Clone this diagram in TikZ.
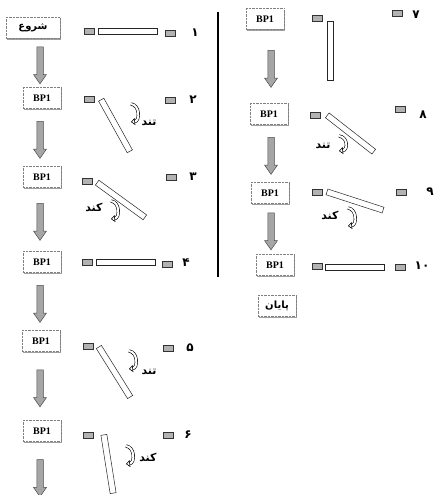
\documentclass[tikz,border=0pt]{standalone}
\usepackage{fontspec}
\setmainfont{Liberation Serif}
\newfontfamily\arabicfont[Script=Arabic]{DejaVu Sans}
\TeXXeTstate=1
\usepackage{tikz}
\usetikzlibrary{shapes.arrows,shadows,arrows.meta}
\tikzset{stepbox/.style={draw=gray, densely dotted, fill=white, minimum width=38pt, minimum height=21pt, inner sep=1pt, font=\fontsize{10}{12}\selectfont\bfseries, drop shadow={shadow xshift=1.3pt, shadow yshift=-1.3pt, fill=gray!75, opacity=1}}}
\tikzset{pad/.style={draw=black!80, fill=gray!60, minimum width=10pt, minimum height=6pt, inner sep=0pt, line width=0.5pt}}
\tikzset{bar/.style={draw=black!85, fill=white, minimum width=59pt, minimum height=6pt, inner sep=0pt, line width=0.5pt}}
\tikzset{fatarrow/.style={single arrow, draw=black!70, fill=gray!70, rotate=-90, minimum height=37pt, inner sep=3pt, single arrow head extend=3.2pt, single arrow tip angle=70, line width=0.5pt}}
\tikzset{curl/.style={line width=0.6pt, double=white, double distance=2pt, -{Triangle[open, length=4pt, width=7pt]}}}
\tikzset{word/.style={font=\arabicfont\bfseries\fontsize{11}{13}\selectfont, inner sep=0pt}}
\tikzset{num/.style={font=\arabicfont\bfseries\fontsize{12}{14}\selectfont, inner sep=0pt}}

\begin{document}
\begin{tikzpicture}[x=1pt,y=-1pt]
\useasboundingbox (0,0) rectangle (435,495);
\coordinate (x1) at (40,0);
\coordinate (x2) at (271,0);
\coordinate (tail) at (40,510);

\node[stepbox, minimum width=54pt] (s1) at (33,28) {\arabicfont\beginR شروع\endR};
\node[stepbox] (b2) at (42,98) {BP1};
\node[stepbox] (b3) at (42,177) {BP1};
\node[stepbox] (b4) at (42,262) {BP1};
\node[stepbox] (b5) at (41,341) {BP1};
\node[stepbox] (b6) at (42,431) {BP1};
\node[stepbox] (b7) at (265,19) {BP1};
\node[stepbox] (b8) at (269,114) {BP1};
\node[stepbox] (b9) at (270,193) {BP1};
\node[stepbox] (b10) at (275,265) {BP1};
\node[stepbox] (e) at (277,306) {\arabicfont\beginR پایان\endR};

\path (x1 |- s1.south) -- node[fatarrow] {} (x1 |- b2.north);
\path (x1 |- b2.south) -- node[fatarrow] {} (x1 |- b3.north);
\path (x1 |- b3.south) -- node[fatarrow] {} (x1 |- b4.north);
\path (x1 |- b4.south) -- node[fatarrow] {} (x1 |- b5.north);
\path (x1 |- b5.south) -- node[fatarrow] {} (x1 |- b6.north);
\path (x1 |- b6.south) -- node[fatarrow] {} (tail);
\path (x2 |- b7.south) -- node[fatarrow] {} (x2 |- b8.north);
\path (x2 |- b8.south) -- node[fatarrow] {} (x2 |- b9.north);
\path (x2 |- b9.south) -- node[fatarrow] {} (x2 |- b10.north);

\draw[line width=1.5pt] (218,12) -- (218,277);

\node[pad] (l1) at (89,31) {};
\node[bar] (r1) at (128,31) {};
\node[pad] (p1) at (170,33) {};
\node[num] (n1) at (195,33) {۱};

\node[pad] (l2) at (89,99) {};
\node[bar, rotate=-61] (r2) at (115.5,125.5) {};
\node[pad] (p2) at (170,100) {};
\node[num] (n2) at (193,100) {۲};
\draw[curl] (131,104) .. controls +(9,1) and +(9,-1) .. (131,122);
\node[word] (t2) at (149,123) {\beginR تند\endR};

\node[pad] (l3) at (87,181) {};
\node[bar, rotate=-36] (r3) at (121,200) {};
\node[pad] (p3) at (171,177) {};
\node[num] (n3) at (193,177) {۳};
\draw[curl] (111,201) .. controls +(9,1) and +(9,-1) .. (111,219);
\node[word] (t3) at (94,207) {\beginR کند\endR};

\node[pad] (l4) at (87,262) {};
\node[bar] (r4) at (126,262) {};
\node[pad] (p4) at (167,264) {};
\node[num] (n4) at (186,263) {۴};

\node[pad] (l5) at (88,346) {};
\node[bar, rotate=-58] (r5) at (114.5,372) {};
\node[pad] (p5) at (168,348) {};
\node[num] (n5) at (190,348) {۵};
\draw[curl] (129,351) .. controls +(9,1) and +(9,-1) .. (129,369);
\node[word] (t5) at (149,372) {\beginR تند\endR};

\node[pad] (l6) at (88,435) {};
\node[bar, rotate=-81] (r6) at (108.5,464) {};
\node[pad] (p6) at (168,435) {};
\node[num] (n6) at (188,435) {۶};
\draw[curl] (126,446) .. controls +(9,1) and +(9,-1) .. (126,464);
\node[word] (t6) at (148,457) {\beginR کند\endR};

\node[pad] (l7) at (317,18) {};
\node[bar, rotate=-90] (r7) at (330,51) {};
\node[pad] (p7) at (397,13) {};
\node[num] (n7) at (416,15) {۷};

\node[pad] (l8) at (315,115) {};
\node[bar, rotate=-38] (r8) at (350.5,133.5) {};
\node[pad] (p8) at (400,109) {};
\node[num] (n8) at (423,115) {۸};
\draw[curl] (339,136) .. controls +(9,1) and +(9,-1) .. (339,151);
\node[word] (t8) at (323,146) {\beginR تند\endR};

\node[pad] (l9) at (317,192) {};
\node[bar, rotate=-18] (r9) at (355,201) {};
\node[pad] (p9) at (401,192) {};
\node[num] (n9) at (430,192) {۹};
\draw[curl] (348,208) .. controls +(9,1) and +(9,-1) .. (348,226);
\node[word] (t9) at (330,215) {\beginR کند\endR};

\node[pad] (l10) at (317,266) {};
\node[bar] (r10) at (355,267) {};
\node[pad] (p10) at (400,267) {};
\node[num] (n10) at (422,266) {۱۰};
\end{tikzpicture}
\end{document}
